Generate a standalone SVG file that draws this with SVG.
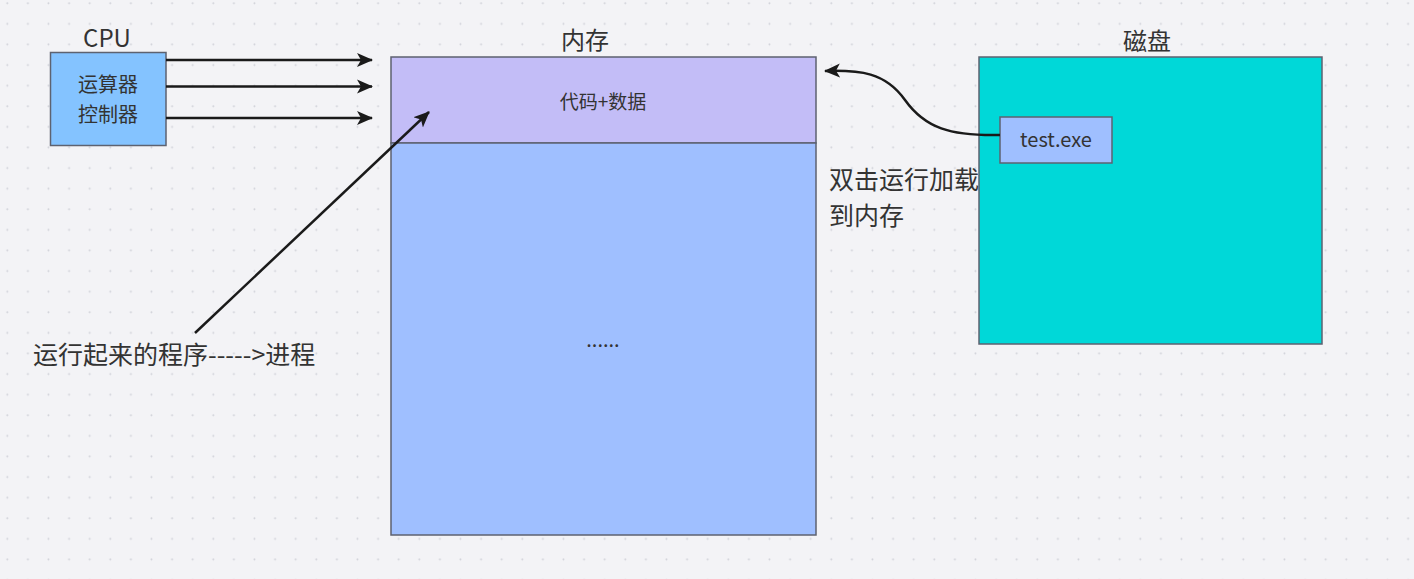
<svg xmlns="http://www.w3.org/2000/svg" width="1414" height="579" viewBox="0 0 1414 579">
<defs>
<pattern id="grid" x="0" y="0" width="20.6" height="20.6" patternUnits="userSpaceOnUse">
<circle cx="7.3" cy="3.3" r="1" fill="#d2d3da"/>
</pattern>
<marker id="ah2" viewBox="0 0 16 16" refX="15" refY="8" markerWidth="16" markerHeight="16" markerUnits="userSpaceOnUse" orient="auto">
<path d="M0,1 L16,8 L0,15 L4,8 Z" fill="#1a1a1a"/>
</marker>
</defs>
<style>
text{font-family:"Noto Sans CJK SC","Noto Sans",sans-serif;fill:#333;}
.box{stroke:#5d6270;stroke-width:1.5;}
.conn{stroke:#1a1a1a;stroke-width:2.5;fill:none;}
</style>
<rect width="1414" height="579" fill="#f3f3f6"/>
<rect width="1414" height="579" fill="url(#grid)"/>

<g id="cpu">
<text x="107" y="47" font-size="24" text-anchor="middle">CPU</text>
<rect class="box" x="50.5" y="52.5" width="115.5" height="93" fill="#84c3ff"/>
<text x="108" y="92" font-size="20" text-anchor="middle">运算器</text>
<text x="108" y="122" font-size="20" text-anchor="middle">控制器</text>
</g>

<g id="memory">
<text x="585" y="49" font-size="24" text-anchor="middle">内存</text>
<rect class="box" x="391" y="57" width="425" height="86" fill="#c3bdf7"/>
<rect class="box" x="391" y="143" width="425" height="392" fill="#9fbfff"/>
<text x="603" y="109" font-size="19" text-anchor="middle">代码+数据</text>
<text x="603" y="347" font-size="20" text-anchor="middle">......</text>
</g>

<g id="disk">
<text x="1147" y="50" font-size="24" text-anchor="middle">磁盘</text>
<rect class="box" x="979" y="57" width="343" height="287" fill="#00d8d8"/>
</g>

<g id="testexe">
<rect class="box" x="1000" y="117" width="112" height="46" fill="#9fbfff"/>
<text x="1056" y="147" font-size="20" text-anchor="middle">test.exe</text>
</g>

<g id="label-load">
<text x="829" y="189" font-size="25">双击运行加载</text>
<text x="829" y="225" font-size="25">到内存</text>
</g>

<g id="label-process">
<text x="33" y="364" font-size="25">运行起来的程序-----&gt;进程</text>
</g>

<g id="connectors">
<line class="conn" x1="166" y1="60" x2="372" y2="60" marker-end="url(#ah2)"/>
<line class="conn" x1="166" y1="86.5" x2="372" y2="86.5" marker-end="url(#ah2)"/>
<line class="conn" x1="166" y1="118" x2="372" y2="118" marker-end="url(#ah2)"/>
<line class="conn" x1="195" y1="333" x2="429" y2="112" marker-end="url(#ah2)"/>
<path class="conn" d="M1000,135 C950,136 925,128 905,100 C885,72 860,70 825,71" marker-end="url(#ah2)"/>
</g>
</svg>
